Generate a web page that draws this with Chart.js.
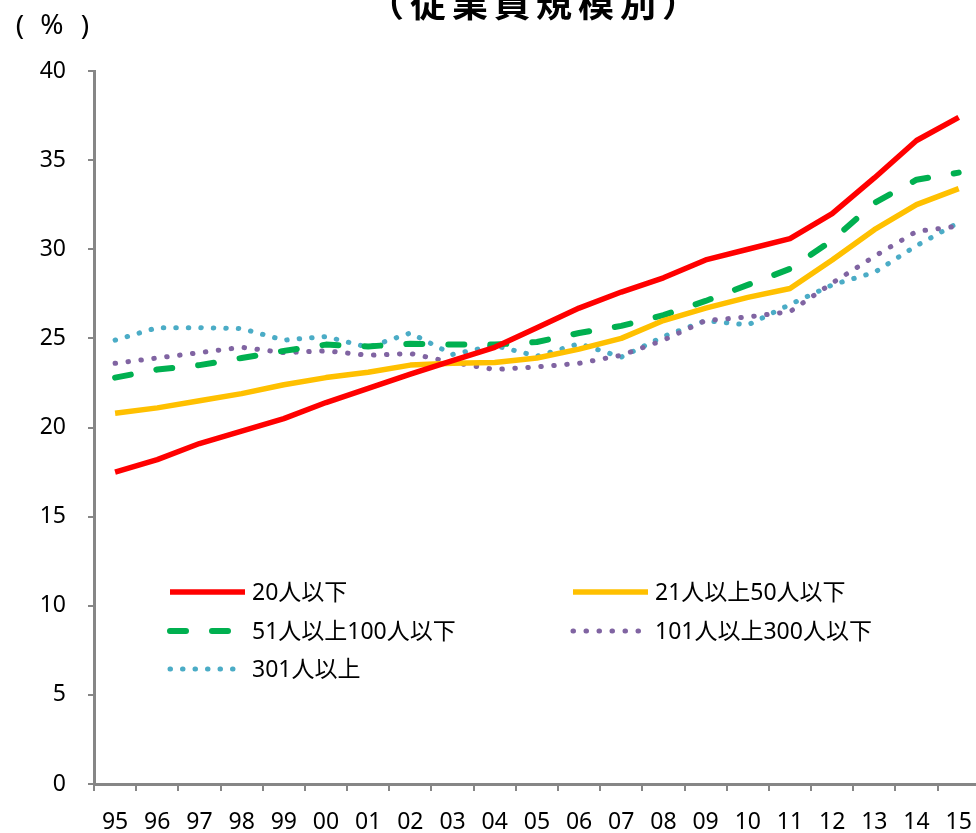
<!DOCTYPE html>
<html>
<head>
<meta charset="utf-8">
<script src="https://cdn.jsdelivr.net/npm/chart.js@4"></script>
<style>
  html, body { margin: 0; padding: 0; background: #fff; overflow: hidden; }
  #sizeChart { display: block; }
</style>
</head>
<body>
<canvas id="sizeChart" width="990" height="833"></canvas>
<script>
// Years (fiscal year, last two digits)
const years = ['95','96','97','98','99','00','01','02','03','04','05','06','07','08','09','10','11','12','13','14','15'];

// Share by company size (%)
const under20   = [17.5, 18.2, 19.1, 19.8, 20.5, 21.4, 22.2, 23.0, 23.75, 24.5, 25.6, 26.7, 27.6, 28.4, 29.4, 30.0, 30.6, 32.0, 34.0, 36.1, 37.4];
const from21to50 = [20.8, 21.1, 21.5, 21.9, 22.4, 22.8, 23.1, 23.5, 23.6, 23.65, 23.9, 24.4, 25.0, 26.0, 26.7, 27.3, 27.8, 29.4, 31.1, 32.5, 33.4];
const from51to100 = [22.8, 23.25, 23.5, 23.9, 24.3, 24.65, 24.55, 24.7, 24.65, 24.65, 24.8, 25.3, 25.7, 26.3, 27.1, 28.0, 28.9, 30.5, 32.6, 33.9, 34.3];
const from101to300 = [23.6, 23.9, 24.2, 24.5, 24.2, 24.3, 24.05, 24.15, 23.65, 23.25, 23.4, 23.6, 24.05, 24.9, 26.0, 26.2, 26.5, 28.1, 29.6, 31.0, 31.3];
const over301 = [24.9, 25.6, 25.6, 25.55, 24.9, 25.1, 24.5, 25.3, 24.1, 24.6, 24.0, 24.7, 23.95, 25.1, 26.0, 25.75, 26.9, 28.0, 28.7, 30.2, 31.5];

const seriesNames = ['20人以下', '21人以上50人以下', '51人以上100人以下', '101人以上300人以下', '301人以上'];
const yTicks = [0, 40, 5]; // min, max, step

const FONT = "'Noto Sans', 'Noto Sans CJK JP', sans-serif";
const AXIS = '#868686';

function makeSet(label, data, color, width, dash) {
    return {
        label: label,
        data: data,
        borderColor: color,
        backgroundColor: color,
        borderWidth: width,
        borderDash: dash,
        borderCapStyle: dash.length ? 'round' : 'butt',
        borderJoinStyle: 'round',
        pointRadius: 0,
        tension: 0,
        fill: false
    };
}

// Title, unit label and the two-column legend drawn on the canvas
const decorations = {
    id: 'decorations',
    afterDraw(chart) {
        const c = chart.ctx;
        c.save();
        c.fillStyle = '#000';
        c.textAlign = 'center';
        c.textBaseline = 'alphabetic';
        c.font = "bold 36px 'Noto Sans CJK JP', sans-serif";
        c.letterSpacing = '6px';
        c.fillText('（従業員規模別）', 536, 17);
        c.letterSpacing = '0px';

        // unit label "( % )"
        c.font = '28px ' + FONT;
        c.textBaseline = 'middle';
        c.fillText('(', 20, 27);
        c.fillText('%', 52, 26);
        c.fillText(')', 85, 27);

        // legend
        const cols = [170, 573];
        const rows = [592, 631, 669];
        c.font = '23px ' + FONT;
        c.textAlign = 'left';
        chart.data.datasets.forEach((ds, i) => {
            const x = cols[i % 2];
            const y = rows[Math.floor(i / 2)];
            c.beginPath();
            c.strokeStyle = ds.borderColor;
            c.lineWidth = ds.borderWidth;
            c.lineCap = ds.borderCapStyle;
            c.setLineDash(ds.borderDash);
            c.moveTo(x, y);
            c.lineTo(x + 75, y);
            c.stroke();
            c.setLineDash([]);
            c.fillStyle = '#000';
            c.fillText(ds.label, x + 82, y + 1);
        });
        c.restore();
    }
};

const ctx = document.getElementById('sizeChart').getContext('2d');
const sizeChart = new Chart(ctx, {
    type: 'line',
    data: {
        labels: years,
        datasets: [
            makeSet(seriesNames[0], under20, '#FF0000', 5.5, []),
            makeSet(seriesNames[1], from21to50, '#FFC000', 5.5, []),
            makeSet(seriesNames[2], from51to100, '#00B050', 6, [16, 26]),
            makeSet(seriesNames[3], from101to300, '#8064A2', 5, [0.5, 12.5]),
            makeSet(seriesNames[4], over301, '#4BACC6', 5, [0.5, 12])
        ]
    },
    options: {
        responsive: false,
        animation: false,
        devicePixelRatio: 1,
        layout: { padding: { top: 71, left: 0, right: 6, bottom: 0 } },
        scales: {
            x: {
                offset: true,
                afterFit(scale) { scale.height = 49; },
                grid: { offset: true, drawOnChartArea: false, drawTicks: true, tickLength: 7, color: AXIS, lineWidth: 2 },
                border: { display: true, color: AXIS, width: 3 },
                ticks: { color: '#000', font: { family: FONT, size: 23 }, padding: 18, maxRotation: 0, autoSkip: false }
            },
            y: {
                min: yTicks[0],
                max: yTicks[1],
                afterFit(scale) { scale.width = 94; },
                grid: { drawOnChartArea: false, drawTicks: true, tickLength: 6, color: AXIS, lineWidth: 2 },
                border: { display: true, color: AXIS, width: 3 },
                ticks: { stepSize: yTicks[2], color: '#000', font: { family: FONT, size: 23 }, padding: 22 }
            }
        },
        plugins: {
            legend: { display: false },
            tooltip: { enabled: false },
            title: { display: false }
        }
    },
    plugins: [decorations]
});
</script>
</body>
</html>
